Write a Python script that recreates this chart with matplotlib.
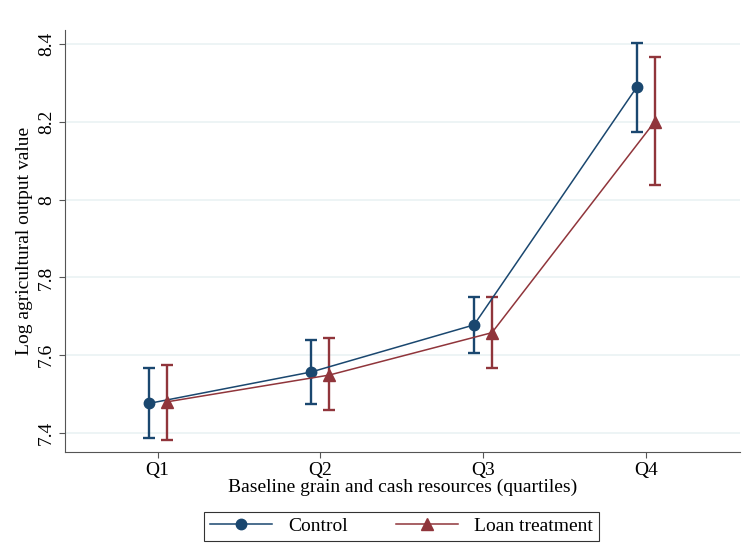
import matplotlib.pyplot as plt
import numpy as np

# Quartiles of baseline resources
quartiles = ['Q1', 'Q2', 'Q3', 'Q4']

# Control group: mean and 95% CI
control_mean = [7.476, 7.557, 7.678, 8.289]
control_lo = [7.387, 7.475, 7.605, 8.173]
control_hi = [7.566, 7.638, 7.750, 8.402]

# Loan treatment group: mean and 95% CI
loan_mean = [7.480, 7.549, 7.658, 8.200]
loan_lo = [7.382, 7.459, 7.566, 8.038]
loan_hi = [7.575, 7.644, 7.750, 8.367]

navy = '#1a476f'
maroon = '#90353b'

plt.rcParams['font.family'] = ['Liberation Serif', 'DejaVu Serif']

fig = plt.figure(figsize=(7.46, 5.46), dpi=100)
ax = fig.add_axes([0.087, 0.172, 0.905, 0.773])

x = np.arange(1, len(quartiles) + 1)
off = 0.055

cm = np.array(control_mean)
lm = np.array(loan_mean)

ax.errorbar(x - off, cm, yerr=[cm - np.array(control_lo), np.array(control_hi) - cm],
            fmt='none', ecolor=navy, elinewidth=1.7, capsize=4.5, capthick=1.7, zorder=3)
ax.errorbar(x + off, lm, yerr=[lm - np.array(loan_lo), np.array(loan_hi) - lm],
            fmt='none', ecolor=maroon, elinewidth=1.7, capsize=4.5, capthick=1.7, zorder=3)

ax.plot(x - off, cm, color=navy, lw=1.1, marker='o', markersize=7.5, label='Control', zorder=4)
ax.plot(x + off, lm, color=maroon, lw=1.1, marker='^', markersize=8.5, label='Loan treatment', zorder=4)

ax.set_xlim(0.43, 4.58)
ax.set_ylim(7.351, 8.436)
ax.set_xticks(x)
ax.set_xticklabels(quartiles)
ax.set_yticks([7.4, 7.6, 7.8, 8.0, 8.2, 8.4])
ax.set_yticklabels(['7.4', '7.6', '7.8', '8', '8.2', '8.4'], rotation=90, va='center')
ax.tick_params(labelsize=14, length=4, color='#555555', pad=3)

ax.grid(axis='y', color='#eaf2f3', lw=1.2)
ax.set_axisbelow(True)
for s in ['top', 'right']:
    ax.spines[s].set_visible(False)
for s in ['left', 'bottom']:
    ax.spines[s].set_color('#555555')

ax.set_xlabel('Baseline grain and cash resources (quartiles)', fontsize=14, labelpad=0)
ax.set_ylabel('Log agricultural output value', fontsize=14, labelpad=4)

leg = fig.legend(loc='center', bbox_to_anchor=(0.538, 0.036), ncol=2, fontsize=14,
                 frameon=True, fancybox=False, edgecolor='black', handlelength=3.2,
                 columnspacing=2.5, borderpad=0.3)
leg.get_frame().set_linewidth(0.8)

plt.savefig('out.png', dpi=100)
plt.close()
